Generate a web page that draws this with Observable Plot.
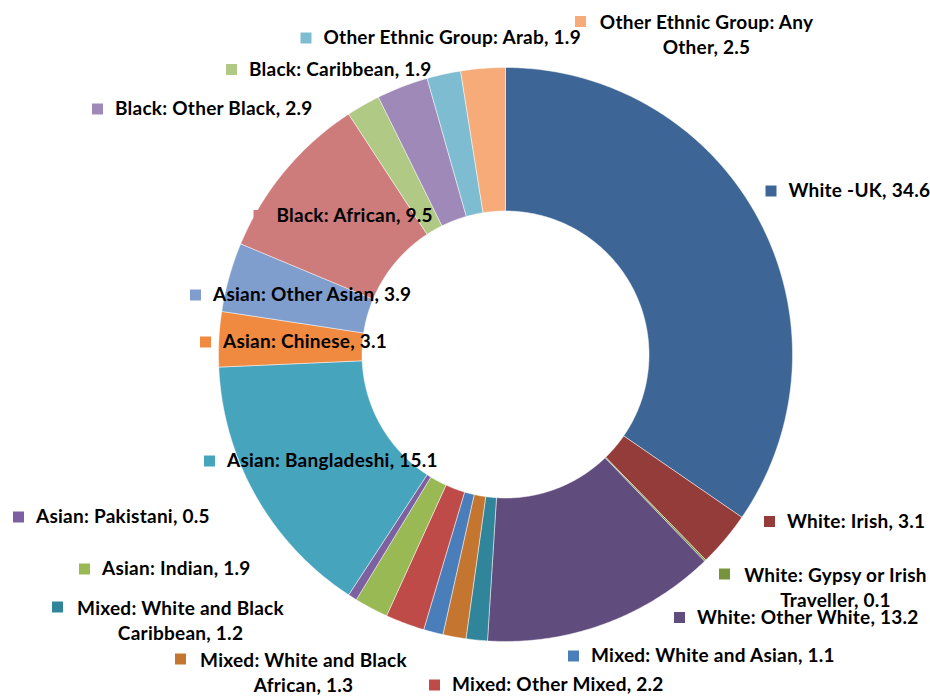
<!DOCTYPE html>
<html>
<head>
<meta charset="utf-8">
<script src="https://cdn.jsdelivr.net/npm/d3@7"></script>
<script src="https://cdn.jsdelivr.net/npm/@observablehq/plot@0.6"></script>
<style>
  html, body { margin: 0; padding: 0; background: #ffffff; }
  #chart { width: 930px; height: 697px; }
  #chart svg text { letter-spacing: 0.25px; }
</style>
</head>
<body>
<div id="chart"></div>
<script>
// ---- Data ----
const categories = [
  "White -UK",
  "White: Irish",
  "White: Gypsy or Irish Traveller",
  "White: Other White",
  "Mixed: White and Black Caribbean",
  "Mixed: White and Black African",
  "Mixed: White and Asian",
  "Mixed: Other Mixed",
  "Asian: Indian",
  "Asian: Pakistani",
  "Asian: Bangladeshi",
  "Asian: Chinese",
  "Asian: Other Asian",
  "Black: African",
  "Black: Caribbean",
  "Black: Other Black",
  "Other Ethnic Group: Arab",
  "Other Ethnic Group: Any Other"
];
const values = [34.6, 3.1, 0.1, 13.2, 1.2, 1.3, 1.1, 2.2, 1.9, 0.5, 15.1, 3.1, 3.9, 9.5, 1.9, 2.9, 1.9, 2.5];
const colors = [
  "#3d6596", "#943c3a", "#77933c", "#614c7e", "#31859b", "#c47530",
  "#4a7ebb", "#be4b48", "#98b954", "#7d60a0", "#47a4bd", "#f08a40",
  "#7f9dcd", "#cd7c7b", "#b0c985", "#9f89b8", "#7dbcd1", "#f6ab79"
];
// where a long label wraps onto a second line (prefix kept on line 1)
const wrapAfter = {
  2: "White: Gypsy or Irish",
  4: "Mixed: White and Black",
  5: "Mixed: White and Black",
  17: "Other Ethnic Group: Any"
};

// ---- Layout (pixels of the 930x697 canvas) ----
const W = 930, H = 697;
const CX = 505, CY = 354, R = 287, HOLE = 0.5;
const FONT = 19, LINE_H = 1.3, KEY_GAP = 17.5;
// key-square centre for each label; text centre x for wrapped labels
const labelLayout = [
  {kx: 770.5, ky: 190.5},
  {kx: 769, ky: 521},
  {kx: 724, ky: 573.5, tx: 835},
  {kx: 679, ky: 617},
  {kx: 57, ky: 606.5, tx: 180},
  {kx: 180, ky: 658.5, tx: 303},
  {kx: 573, ky: 655.5},
  {kx: 434, ky: 684.5},
  {kx: 84, ky: 568.5},
  {kx: 18, ky: 516.5},
  {kx: 209, ky: 460.5},
  {kx: 205, ky: 341.5},
  {kx: 195, ky: 294.5},
  {kx: 258.5, ky: 215},
  {kx: 231, ky: 69},
  {kx: 97, ky: 108.5},
  {kx: 305.5, ky: 37.5},
  {kx: 580, ky: 21, tx: 706}
];
const ux = px => (px - CX) / R;
const uy = py => (CY - py) / R;

// ---- Build slice polygons from the values ----
const total = d3.sum(values);
const slices = [];
let acc = 0;
values.forEach((v, i) => {
  const a0 = acc / total * 2 * Math.PI;
  acc += v;
  const a1 = acc / total * 2 * Math.PI;
  const n = Math.max(2, Math.ceil((a1 - a0) / (Math.PI / 360)));
  const pts = [];
  for (let k = 0; k <= n; k++) {
    const a = a0 + (a1 - a0) * k / n;
    pts.push([Math.sin(a), Math.cos(a)]);
  }
  for (let k = n; k >= 0; k--) {
    const a = a0 + (a1 - a0) * k / n;
    pts.push([HOLE * Math.sin(a), HOLE * Math.cos(a)]);
  }
  pts.push(pts[0]);
  pts.forEach(([x, y]) => slices.push({cat: categories[i], x, y}));
});

// ---- Labels ----
const labels = categories.map((c, i) => {
  const full = `${c}, ${values[i]}`;
  let text = full;
  const pre = wrapAfter[i];
  if (pre) text = pre + "\n" + full.slice(pre.length).trim();
  const L = labelLayout[i];
  const multi = !!pre;
  const tx = multi ? L.tx : L.kx + KEY_GAP;
  // for wrapped labels, y is the middle of the 2-line block
  const ty = multi ? L.ky + LINE_H * FONT / 2 : L.ky;
  return {cat: c, text, multi, kx: ux(L.kx), ky: uy(L.ky), tx: ux(tx), ty: uy(ty)};
});

const chart = Plot.plot({
  width: W,
  height: H,
  marginLeft: CX - R,
  marginRight: W - (CX + R),
  marginTop: CY - R,
  marginBottom: H - (CY + R),
  x: {domain: [-1, 1], axis: null},
  y: {domain: [-1, 1], axis: null},
  color: {domain: categories, range: colors},
  style: {fontFamily: "Lato, 'DejaVu Sans', sans-serif", background: "#ffffff", overflow: "visible"},
  marks: [
    Plot.line(slices, {x: "x", y: "y", z: "cat", fill: "cat", stroke: "#ffffff", strokeWidth: 0.6, strokeOpacity: 0.8, curve: "linear"}),
    Plot.dot(labels, {x: "kx", y: "ky", fill: "cat", symbol: "square", r: 6.2, stroke: null}),
    Plot.text(labels.filter(d => !d.multi), {x: "tx", y: "ty", text: "text", textAnchor: "start", fontSize: FONT, fontWeight: "bold", fill: "#000000"}),
    Plot.text(labels.filter(d => d.multi), {x: "tx", y: "ty", text: "text", textAnchor: "middle", lineHeight: LINE_H, fontSize: FONT, fontWeight: "bold", fill: "#000000"})
  ]
});
document.getElementById("chart").appendChild(chart);
</script>
</body>
</html>
